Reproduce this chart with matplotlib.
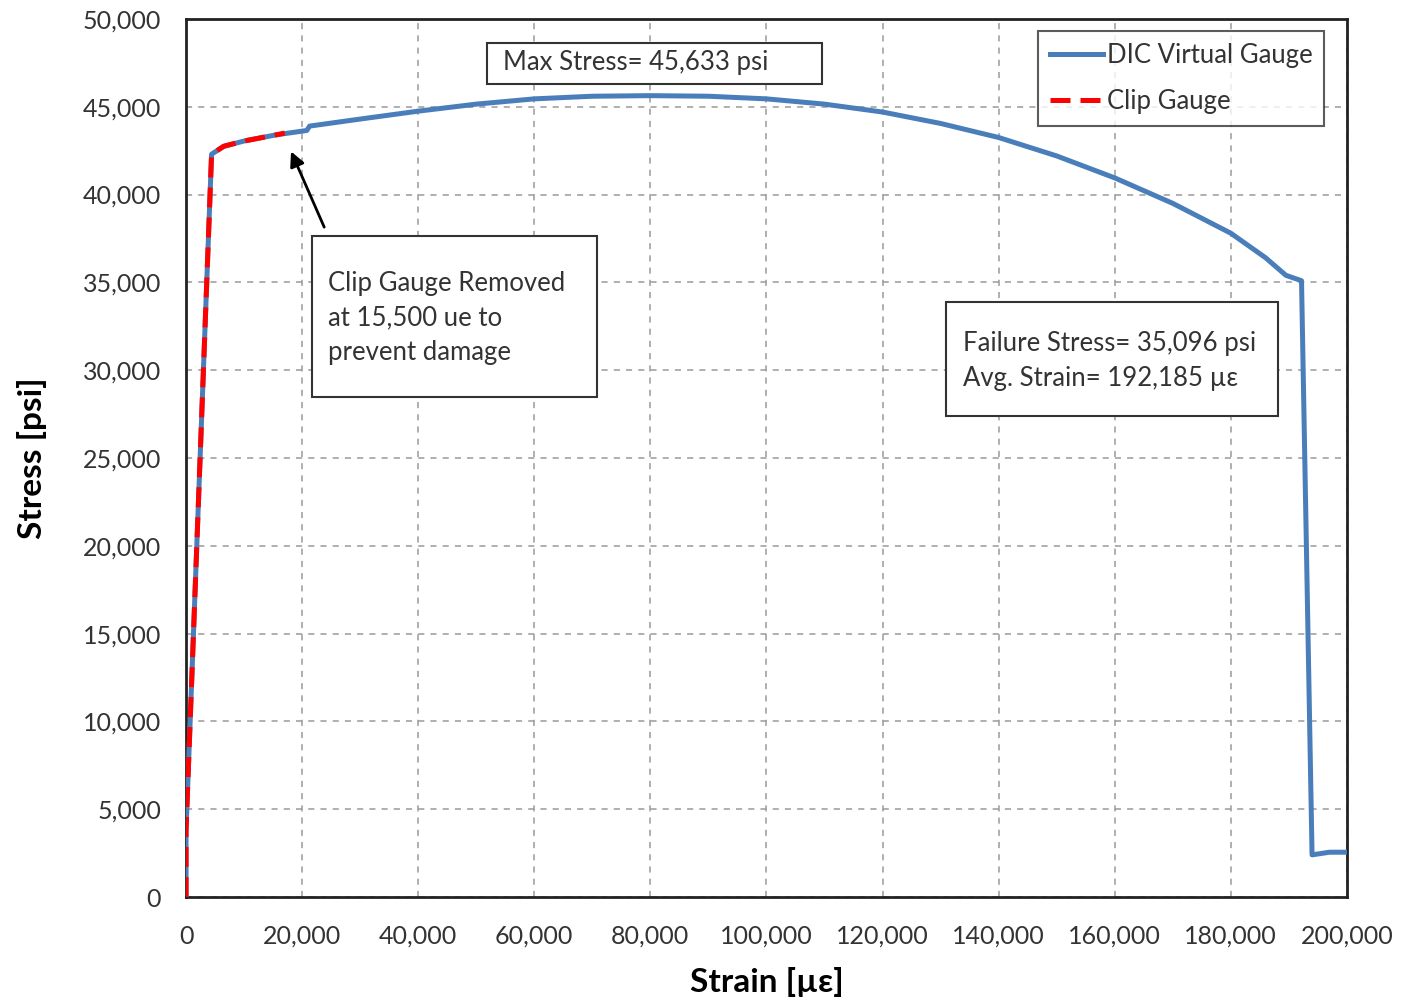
import matplotlib.pyplot as plt
from matplotlib.patches import Rectangle
from matplotlib.ticker import FuncFormatter, MultipleLocator

plt.rcParams['font.family'] = ['Lato', 'DejaVu Sans']

# DIC virtual gauge stress-strain curve
dic_strain = [0, 0, 4400, 6500, 10000, 15500, 20800, 21300, 30000, 40000, 50000,
              60000, 70000, 80000, 90000, 100000, 110000, 120000, 130000, 140000,
              150000, 160000, 170000, 180000, 186000, 189500, 192185, 194000,
              197000, 200000]
dic_stress = [0, 3800, 42300, 42750, 43050, 43400, 43650, 43900, 44300, 44750, 45150,
              45450, 45600, 45633, 45600, 45450, 45150, 44700, 44050, 43250,
              42200, 40950, 39500, 37800, 36400, 35400, 35096, 2400,
              2550, 2550]

# Clip gauge, removed at 15,500 ue
clip_strain = [0, 0, 4400, 6500, 10000, 15500, 17000]
clip_stress = [0, 3800, 42300, 42750, 43050, 43400, 43500]

txt_color = '#333333'

fig = plt.figure(figsize=(14.03, 9.98), dpi=100)
ax = fig.add_axes([0.1326, 0.1012, 0.8274, 0.8798])

ax.plot(dic_strain, dic_stress, color='#4a7ebb', lw=3.6, label='DIC Virtual Gauge',
        solid_joinstyle='round', zorder=3)
ax.plot(clip_strain, clip_stress, color='#ff0000', lw=3.6, ls=(0, (4, 2)),
        label='Clip Gauge', zorder=4)

ax.set_xlim(0, 200000)
ax.set_ylim(0, 50000)
ax.xaxis.set_major_locator(MultipleLocator(20000))
ax.yaxis.set_major_locator(MultipleLocator(5000))
fmt = FuncFormatter(lambda v, p: f'{int(v):,}')
ax.xaxis.set_major_formatter(fmt)
ax.yaxis.set_major_formatter(fmt)
ax.tick_params(labelsize=18, length=0, colors=txt_color)
ax.tick_params(axis='x', pad=20)
ax.tick_params(axis='y', pad=18)
ax.grid(True, color='#9a9a9a', ls=(0, (4, 4)), lw=1.1)
for s in ax.spines.values():
    s.set_linewidth(2)
    s.set_color('#222222')

ax.set_xlabel('Strain [µε]', fontsize=24, fontweight='bold', labelpad=14)
ax.set_ylabel('Stress [psi]', fontsize=24, fontweight='bold', labelpad=26)


def text_box(x0, y0, x1, y1, tx, ty, s):
    ax.add_patch(Rectangle((x0, y0), x1 - x0, y1 - y0, transform=ax.transAxes,
                           fc='white', ec=txt_color, lw=1.5, zorder=5))
    ax.text(tx, ty, s, transform=ax.transAxes, fontsize=18.5, va='center',
            ha='left', color=txt_color, linespacing=1.48, zorder=6)


text_box(0.2593, 0.926, 0.5478, 0.9727, 0.273, 0.950, 'Max Stress= 45,633 psi')
text_box(0.1085, 0.5695, 0.354, 0.7528, 0.1223, 0.6595,
         'Clip Gauge Removed\nat 15,500 ue to\nprevent damage')
text_box(0.6546, 0.5478, 0.9406, 0.6777, 0.6693, 0.6105,
         'Failure Stress= 35,096 psi\nAvg. Strain= 192,185 µε')

ax.annotate('', xy=(17900, 42600), xytext=(24000, 38000),
            arrowprops=dict(arrowstyle='-|>', color='black', lw=2, mutation_scale=22),
            zorder=6)

leg = ax.legend(loc='upper right', fontsize=18.5, frameon=True, fancybox=False,
                edgecolor=txt_color, handlelength=2.1, handletextpad=0.12,
                borderpad=0.45, labelspacing=0.85, borderaxespad=0,
                bbox_to_anchor=(0.9802, 0.9863))
leg.get_frame().set_linewidth(1.5)
leg.set_zorder(7)
for t in leg.get_texts():
    t.set_color(txt_color)

fig.savefig('out.png', dpi=100)
